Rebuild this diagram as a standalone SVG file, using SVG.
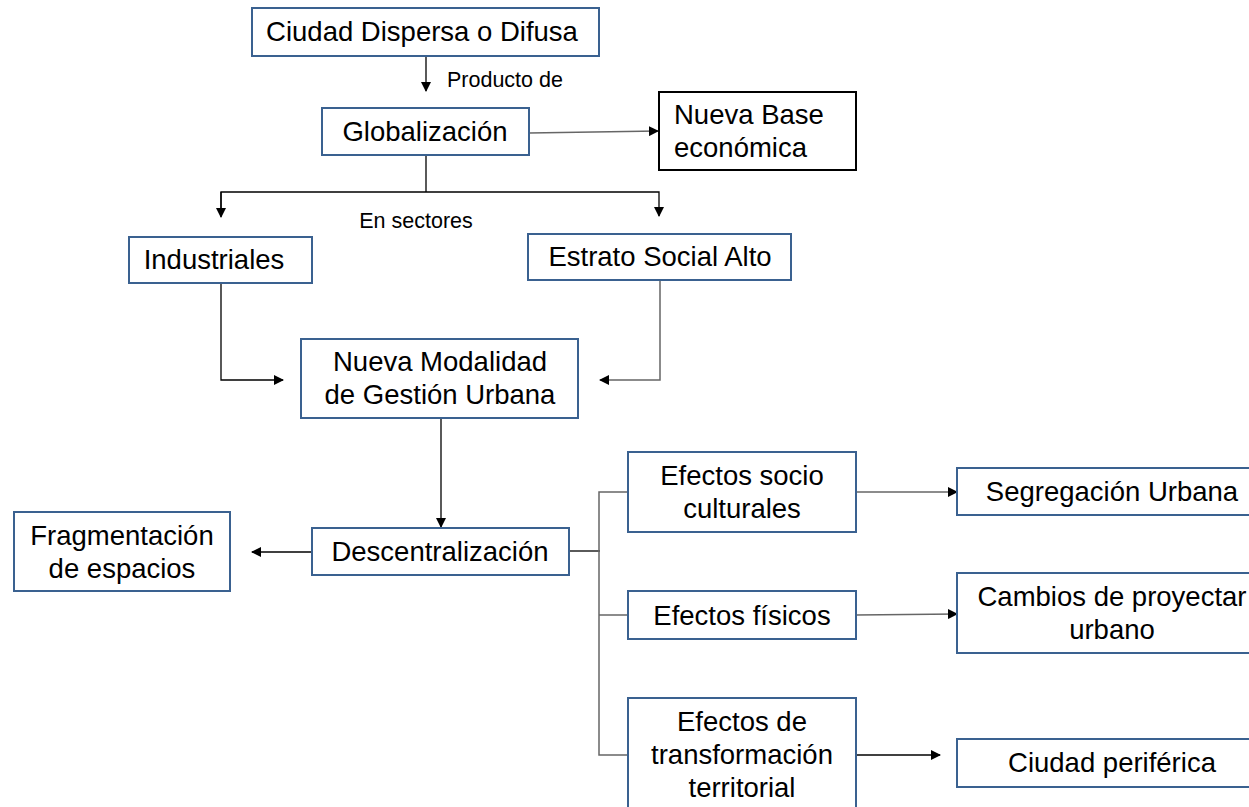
<svg xmlns="http://www.w3.org/2000/svg" width="1249" height="807" viewBox="0 0 1249 807">
<defs>
<marker id="ah" markerWidth="10" markerHeight="10" refX="9" refY="5" orient="auto" markerUnits="userSpaceOnUse">
<path d="M0,0 L10,5 L0,10 Z" fill="#000"/>
</marker>
<style>
.box{fill:#fff;stroke:#3A6190;stroke-width:2}
.bbox{fill:#fff;stroke:#000;stroke-width:2}
.t{font-family:"Liberation Sans",Arial,sans-serif;font-size:27.5px;fill:#000;text-anchor:middle}
.l{font-family:"Liberation Sans",Arial,sans-serif;font-size:27.5px;fill:#000;text-anchor:start}
.s{font-family:"Liberation Sans",Arial,sans-serif;font-size:21.5px;fill:#000}
.c{fill:none;stroke:#000;stroke-width:1.3}
.g{fill:none;stroke:#666;stroke-width:1.5}
</style>
</defs>
<rect width="1249" height="807" fill="#fff"/>

<g id="connectors">
<line class="c" x1="426" y1="56" x2="426" y2="91" marker-end="url(#ah)"/>
<text class="s" x="447" y="87">Producto de</text>
<line class="g" x1="529" y1="133" x2="658" y2="131" marker-end="url(#ah)"/>
<polyline class="c" points="426,156 426,192"/>
<polyline class="c" points="221,216 221,192 659,192 659,216" marker-end="url(#ah)"/>
<line class="c" x1="221" y1="192" x2="221" y2="217" marker-end="url(#ah)"/>
<text class="s" x="416" y="228" text-anchor="middle">En sectores</text>
<polyline class="c" points="221,283 221,380 283,380" marker-end="url(#ah)"/>
<polyline class="g" points="660,280 660,380 600,380" marker-end="url(#ah)"/>
<line class="c" x1="441" y1="418" x2="441" y2="527" marker-end="url(#ah)"/>
<line class="c" x1="311" y1="552" x2="252" y2="552" marker-end="url(#ah)"/>
<polyline class="c" points="570,551 600,551"/>
<polyline class="g" points="628,492 599,492 599,755 628,755"/>
<line class="g" x1="599" y1="615" x2="628" y2="615"/>
<line class="g" x1="856" y1="492" x2="957" y2="492" marker-end="url(#ah)"/>
<line class="g" x1="856" y1="615" x2="957" y2="614" marker-end="url(#ah)"/>
<line class="c" x1="856" y1="755" x2="940" y2="755" marker-end="url(#ah)"/>
</g>

<g id="n-ciudad"><rect class="box" x="252" y="8" width="347" height="48"/><text class="t" x="422" y="41">Ciudad Dispersa o Difusa</text></g>
<g id="n-glob"><rect class="box" x="322" y="108" width="207" height="47"/><text class="t" x="425" y="141">Globalización</text></g>
<g id="n-base"><rect class="bbox" x="659" y="92" width="197" height="78"/><text class="l" x="674" y="124">Nueva Base</text><text class="l" x="674" y="157">económica</text></g>
<g id="n-ind"><rect class="box" x="129" y="237" width="183" height="46"/><text class="t" x="214" y="269">Industriales</text></g>
<g id="n-estrato"><rect class="box" x="528" y="234" width="263" height="46"/><text class="t" x="660" y="266">Estrato Social Alto</text></g>
<g id="n-modal"><rect class="box" x="301" y="339" width="277" height="79"/><text class="t" x="440" y="371">Nueva Modalidad</text><text class="t" x="440" y="404">de Gestión Urbana</text></g>
<g id="n-desc"><rect class="box" x="312" y="528" width="257" height="47"/><text class="t" x="440" y="561">Descentralización</text></g>
<g id="n-frag"><rect class="box" x="14" y="512" width="216" height="79"/><text class="t" x="122" y="545">Fragmentación</text><text class="t" x="122" y="578">de espacios</text></g>
<g id="n-socio"><rect class="box" x="628" y="452" width="228" height="80"/><text class="t" x="742" y="485">Efectos socio</text><text class="t" x="742" y="518">culturales</text></g>
<g id="n-fis"><rect class="box" x="628" y="591" width="228" height="48"/><text class="t" x="742" y="625">Efectos físicos</text></g>
<g id="n-trans"><rect class="box" x="628" y="698" width="228" height="120"/><text class="t" x="742" y="731">Efectos de</text><text class="t" x="742" y="764">transformación</text><text class="t" x="742" y="797">territorial</text></g>
<g id="n-seg"><rect class="box" x="957" y="468" width="310" height="47"/><text class="t" x="1112" y="501">Segregación Urbana</text></g>
<g id="n-camb"><rect class="box" x="957" y="573" width="310" height="80"/><text class="t" x="1112" y="606">Cambios de proyectar</text><text class="t" x="1112" y="639">urbano</text></g>
<g id="n-per"><rect class="box" x="957" y="739" width="310" height="48"/><text class="t" x="1112" y="772">Ciudad periférica</text></g>
</svg>
